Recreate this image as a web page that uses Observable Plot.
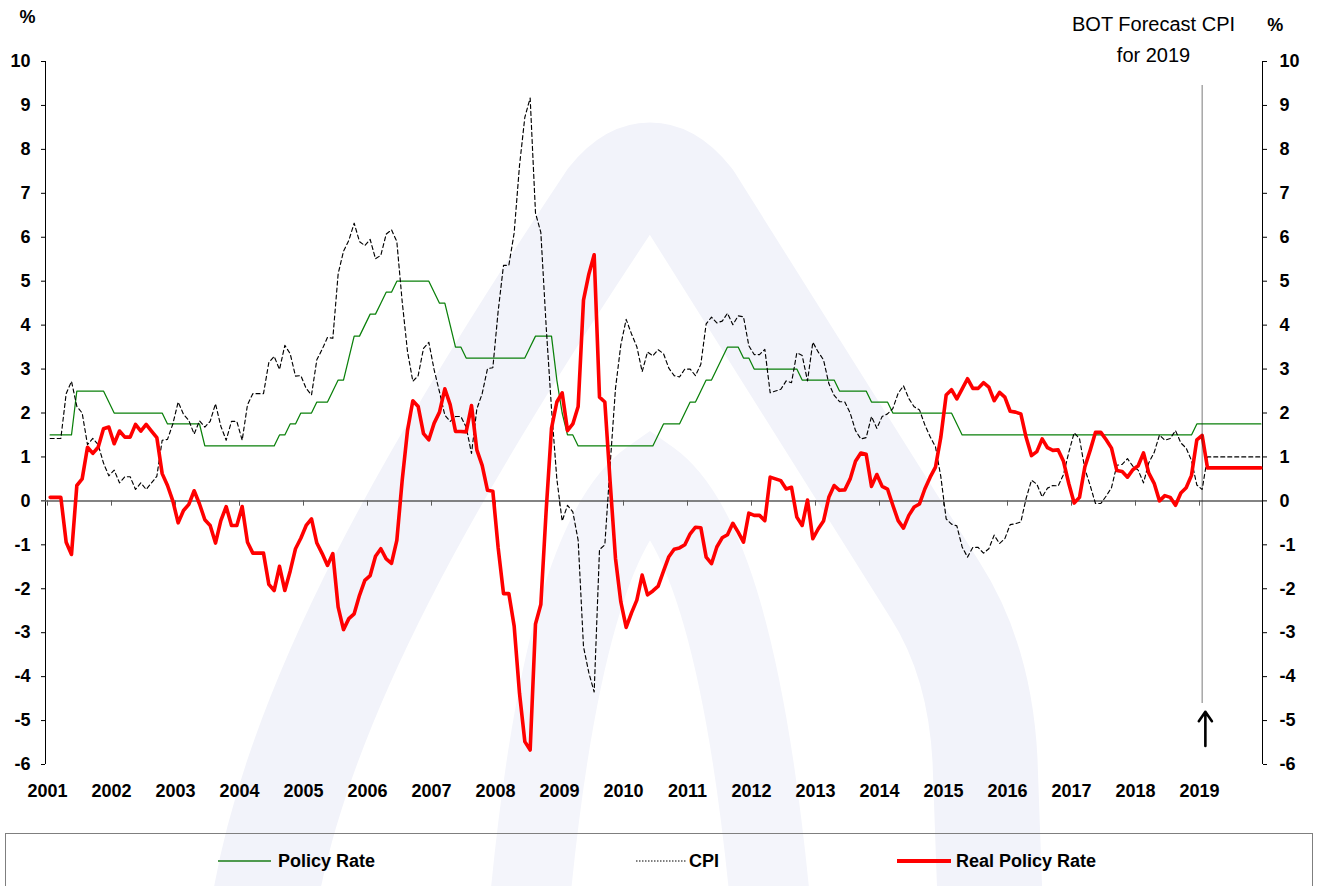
<!DOCTYPE html>
<html>
<head>
<meta charset="utf-8">
<script src="https://cdn.jsdelivr.net/npm/d3@7"></script>
<script src="https://cdn.jsdelivr.net/npm/@observablehq/plot@0.6"></script>
<style>
  html, body { margin: 0; padding: 0; background: #fff; }
  #wrap { position: relative; width: 1319px; height: 886px; overflow: hidden; font-family: "Liberation Sans", Arial, sans-serif; }
  #wm { position: absolute; left: 0; top: 0; }
  #chart { position: absolute; left: 0; top: 0; }
  #legend { position: absolute; left: 5px; top: 833px; width: 1308px; height: 80px; border: 1px solid #7f7f7f; box-sizing: border-box; }
  .item { position: absolute; top: 0; height: 54px; display: flex; align-items: center; font-weight: bold; font-size: 18px; color: #000; white-space: nowrap; }
</style>
</head>
<body>
<div id="wrap">
  <svg id="wm" width="1319" height="886" aria-hidden="true">
    <path d="M 265 900 C 300 700, 430 470, 610 200 Q 650 150 690 200 L 935 590 Q 980 660 985 760 L 990 900" fill="none" stroke="#f2f3fa" stroke-width="105" stroke-linejoin="round"/>
    <path d="M 530 900 Q 565 540 650 480 Q 735 540 770 900" fill="none" stroke="#f4f5fb" stroke-width="80"/>
  </svg>
  <div id="chart"></div>
  <div id="legend"></div>
</div>
<script>
// ---------------- data (monthly, Jan 2001 .. Dec 2019) ----------------
const startYear = 2001;
const years = d3.range(2001, 2020);          // x tick labels
const yTicks = d3.range(-6, 11);             // y tick values

const policyRate = [
  1.5,1.5,1.5,1.5,1.5,2.5,2.5,2.5,2.5,2.5,2.5,2.25,
  2,2,2,2,2,2,2,2,2,2,1.75,1.75,
  1.75,1.75,1.75,1.75,1.75,1.25,1.25,1.25,1.25,1.25,1.25,1.25,
  1.25,1.25,1.25,1.25,1.25,1.25,1.25,1.5,1.5,1.75,1.75,2,
  2,2,2.25,2.25,2.25,2.5,2.75,2.75,3.25,3.75,3.75,4,
  4.25,4.25,4.5,4.75,4.75,5,5,5,5,5,5,5,
  4.75,4.5,4.5,4,3.5,3.5,3.25,3.25,3.25,3.25,3.25,3.25,
  3.25,3.25,3.25,3.25,3.25,3.25,3.5,3.75,3.75,3.75,3.75,2.75,
  2,1.5,1.5,1.25,1.25,1.25,1.25,1.25,1.25,1.25,1.25,1.25,
  1.25,1.25,1.25,1.25,1.25,1.25,1.5,1.75,1.75,1.75,1.75,2,
  2.25,2.25,2.5,2.75,2.75,3,3.25,3.5,3.5,3.5,3.25,3.25,
  3,3,3,3,3,3,3,3,3,2.75,2.75,2.75,
  2.75,2.75,2.75,2.75,2.5,2.5,2.5,2.5,2.5,2.5,2.25,2.25,
  2.25,2.25,2,2,2,2,2,2,2,2,2,2,
  2,2,1.75,1.5,1.5,1.5,1.5,1.5,1.5,1.5,1.5,1.5,
  1.5,1.5,1.5,1.5,1.5,1.5,1.5,1.5,1.5,1.5,1.5,1.5,
  1.5,1.5,1.5,1.5,1.5,1.5,1.5,1.5,1.5,1.5,1.5,1.5,
  1.5,1.5,1.5,1.5,1.5,1.5,1.5,1.5,1.5,1.5,1.5,1.75,
  1.75,1.75,1.75,1.75,1.75,1.75,1.75,1.75,1.75,1.75,1.75,1.75
];

const cpi = [
  1.42,1.42,1.42,2.44,2.72,2.15,2.0,1.28,1.42,1.28,0.86,0.57,
  0.7,0.41,0.55,0.55,0.26,0.41,0.26,0.41,0.56,1.38,1.4,1.75,
  2.25,1.97,1.83,1.52,1.82,1.68,1.81,2.21,1.7,1.38,1.81,1.81,
  1.38,2.19,2.44,2.44,2.44,3.15,3.29,2.99,3.54,3.35,2.84,2.85,
  2.56,2.41,3.21,3.45,3.72,3.7,5.17,5.68,5.93,6.32,5.9,5.81,
  5.95,5.51,5.59,6.07,6.17,5.9,4.54,3.4,2.72,2.85,3.47,3.61,
  2.98,2.48,1.95,1.81,1.92,1.92,1.68,1.08,2.09,2.44,3.01,3.03,
  4.32,5.36,5.36,6.1,7.63,8.73,9.17,6.55,6.11,3.97,2.1,0.5,
  -0.46,-0.1,-0.25,-0.9,-3.32,-3.91,-4.35,-1.11,-1.0,0.83,2.56,3.55,
  4.13,3.8,3.51,2.94,3.39,3.3,3.44,3.35,3.02,2.85,2.82,3.0,
  3.0,2.85,3.11,4.03,4.18,4.05,4.09,4.27,4.01,4.21,4.19,3.53,
  3.33,3.33,3.45,2.46,2.5,2.54,2.73,2.69,3.37,3.31,2.73,3.61,
  3.39,3.21,2.67,2.4,2.26,2.25,2.0,1.6,1.41,1.44,1.92,1.65,
  1.92,1.98,2.1,2.45,2.62,2.33,2.14,2.07,1.73,1.46,1.23,0.55,
  -0.41,-0.53,-0.57,-1.05,-1.28,-1.06,-1.06,-1.19,-1.09,-0.78,-0.97,-0.86,
  -0.54,-0.52,-0.48,0.06,0.47,0.38,0.09,0.29,0.35,0.34,0.6,1.11,
  1.55,1.42,0.73,0.35,-0.06,-0.06,0.11,0.3,0.81,0.83,0.96,0.79,
  0.7,0.41,0.87,1.1,1.5,1.38,1.42,1.6,1.32,1.2,0.92,0.36,
  0.26,1.0,1.0,1.0,1.0,1.0,1.0,1.0,1.0,1.0,1.0,1.0
];

const realPolicyRate = [
  0.08,0.08,0.08,-0.94,-1.22,0.35,0.5,1.22,1.08,1.22,1.64,1.68,
  1.3,1.59,1.45,1.45,1.74,1.59,1.74,1.59,1.44,0.62,0.35,0,
  -0.5,-0.22,-0.08,0.23,-0.07,-0.43,-0.56,-0.96,-0.45,-0.13,-0.56,-0.56,
  -0.13,-0.94,-1.19,-1.19,-1.19,-1.9,-2.04,-1.49,-2.04,-1.6,-1.09,-0.85,
  -0.56,-0.41,-0.96,-1.2,-1.47,-1.2,-2.42,-2.93,-2.68,-2.57,-2.15,-1.81,
  -1.7,-1.26,-1.09,-1.32,-1.42,-0.9,0.46,1.6,2.28,2.15,1.53,1.39,
  1.77,2.02,2.55,2.19,1.58,1.58,1.57,2.17,1.16,0.81,0.24,0.22,
  -1.07,-2.11,-2.11,-2.85,-4.38,-5.48,-5.67,-2.8,-2.36,-0.22,1.65,2.25,
  2.46,1.6,1.75,2.15,4.57,5.16,5.6,2.36,2.25,0.42,-1.31,-2.3,
  -2.88,-2.55,-2.26,-1.69,-2.14,-2.05,-1.94,-1.6,-1.27,-1.1,-1.07,-1,
  -0.75,-0.6,-0.61,-1.28,-1.43,-1.05,-0.84,-0.77,-0.51,-0.71,-0.94,-0.28,
  -0.33,-0.33,-0.45,0.54,0.5,0.46,0.27,0.31,-0.37,-0.56,0.02,-0.86,
  -0.64,-0.46,0.08,0.35,0.24,0.25,0.5,0.9,1.09,1.06,0.33,0.6,
  0.33,0.27,-0.1,-0.45,-0.62,-0.33,-0.14,-0.07,0.27,0.54,0.77,1.45,
  2.41,2.53,2.32,2.55,2.78,2.56,2.56,2.69,2.59,2.28,2.47,2.36,
  2.04,2.02,1.98,1.44,1.03,1.12,1.41,1.21,1.15,1.16,0.9,0.39,
  -0.05,0.08,0.77,1.15,1.56,1.56,1.39,1.2,0.69,0.67,0.54,0.71,
  0.8,1.09,0.63,0.4,0,0.12,0.08,-0.1,0.18,0.3,0.58,1.39,
  1.49,0.75,0.75,0.75,0.75,0.75,0.75,0.75,0.75,0.75,0.75,0.75
];

const seriesNames = ["Policy Rate", "CPI", "Real Policy Rate"];
const forecastIndex = 216;                       // Jan 2019: start of BOT forecast
const forecastLabel = ["BOT Forecast CPI", "for 2019"];
const unitLabel = "%";

// ---------------- build table ----------------
const monthT = i => startYear + (i + 0.5) / 12;
const toRows = (vals, name) => vals.map((v, i) => ({ t: monthT(i), v, name }));
const styles = {
  "Policy Rate":      { stroke: "#0a800a", strokeWidth: 1.25 },
  "CPI":              { stroke: "#000000", strokeWidth: 1.15, strokeDasharray: "4,3" },
  "Real Policy Rate": { stroke: "#ff0000", strokeWidth: 3.6 }
};
const seriesValues = [policyRate, cpi, realPolicyRate];

const xDomain = [startYear - 2 / 64, startYear + 1215 / 64];
const fT = monthT(forecastIndex);
const font = '"Liberation Sans", Arial, sans-serif';

const lineMarks = seriesNames.map((n, k) =>
  Plot.line(toRows(seriesValues[k], n), { x: "t", y: "v", ...styles[n], strokeLinejoin: "round" })
);

const chart = Plot.plot({
  width: 1319,
  height: 833,
  marginTop: 61,
  marginBottom: 69,
  marginLeft: 45,
  marginRight: 57,
  x: { type: "linear", domain: xDomain, axis: null },
  y: { domain: [-6, 10], axis: null },
  style: { fontFamily: font, fontSize: "18px", fontWeight: "bold", color: "#000", background: "transparent", overflow: "visible" },
  marks: [
    Plot.ruleX(xDomain, { stroke: "#000", strokeWidth: 1 }),
    Plot.ruleY([0], { stroke: "#5a5a5a", strokeWidth: 1.5 }),
    Plot.ruleX(years, { y1: 0, y2: -0.12, stroke: "#5a5a5a", strokeWidth: 1 }),
    Plot.axisY(yTicks, { anchor: "left", tickSize: 4, tickPadding: 11, tickFormat: d => String(d), label: null, fontWeight: "bold", fontSize: 18 }),
    Plot.axisY(yTicks, { anchor: "right", tickSize: 4, tickPadding: 13, tickFormat: d => String(d), label: null, fontWeight: "bold", fontSize: 18 }),
    Plot.axisX(years, { anchor: "bottom", tickSize: 0, tickPadding: 20, tickFormat: d => String(d), label: null, fontWeight: "bold", fontSize: 18 }),
    ...lineMarks,
    Plot.ruleX([fT], { y1: -4.6, y2: 9.45, stroke: "#222", strokeWidth: 1.2, strokeDasharray: "1,1" }),
    Plot.arrow([{ x: fT + 0.05, a: -5.58, b: -4.8 }], { x1: "x", x2: "x", y1: "a", y2: "b", stroke: "#000", strokeWidth: 2.6, headLength: 11, headAngle: 70 }),
    Plot.text([forecastLabel[0]], { x: fT - 0.76, y: 10.83, text: d => d, fontWeight: "normal", fontSize: 20, textAnchor: "middle" }),
    Plot.text([forecastLabel[1]], { x: fT - 0.76, y: 10.13, text: d => d, fontWeight: "normal", fontSize: 20, textAnchor: "middle" }),
    Plot.text([unitLabel], { x: xDomain[0] - 0.28, y: 11.0, text: d => d, fontWeight: "bold", fontSize: 18 }),
    Plot.text([unitLabel], { x: xDomain[1] + 0.2, y: 10.83, text: d => d, fontWeight: "bold", fontSize: 18 })
  ]
});
document.getElementById("chart").appendChild(chart);

// ---------------- legend ----------------
const legendPos = [
  { line: [212, 265], text: 272 },
  { line: [630, 680], text: 683 },
  { line: [891, 945], text: 950 }
];
const legend = document.getElementById("legend");
seriesNames.forEach((n, k) => {
  const s = styles[n];
  const p = legendPos[k];
  const item = document.createElement("div");
  item.className = "item";
  item.style.left = p.line[0] + "px";
  const sw = document.createElementNS("http://www.w3.org/2000/svg", "svg");
  const w = p.line[1] - p.line[0];
  sw.setAttribute("width", w);
  sw.setAttribute("height", 8);
  sw.style.marginRight = (p.text - p.line[1]) + "px";
  const ln = document.createElementNS("http://www.w3.org/2000/svg", "line");
  ln.setAttribute("x1", 0); ln.setAttribute("x2", w);
  ln.setAttribute("y1", 4); ln.setAttribute("y2", 4);
  ln.setAttribute("stroke", n === "Policy Rate" ? "#4f9a4f" : s.stroke);
  ln.setAttribute("stroke-width", n === "Real Policy Rate" ? 4 : (n === "CPI" ? 1 : 2));
  if (n === "CPI") ln.setAttribute("stroke-dasharray", "1.5,1.5");
  sw.appendChild(ln);
  item.appendChild(sw);
  const tx = document.createElement("span");
  tx.textContent = n;
  item.appendChild(tx);
  legend.appendChild(item);
});
</script>
</body>
</html>
